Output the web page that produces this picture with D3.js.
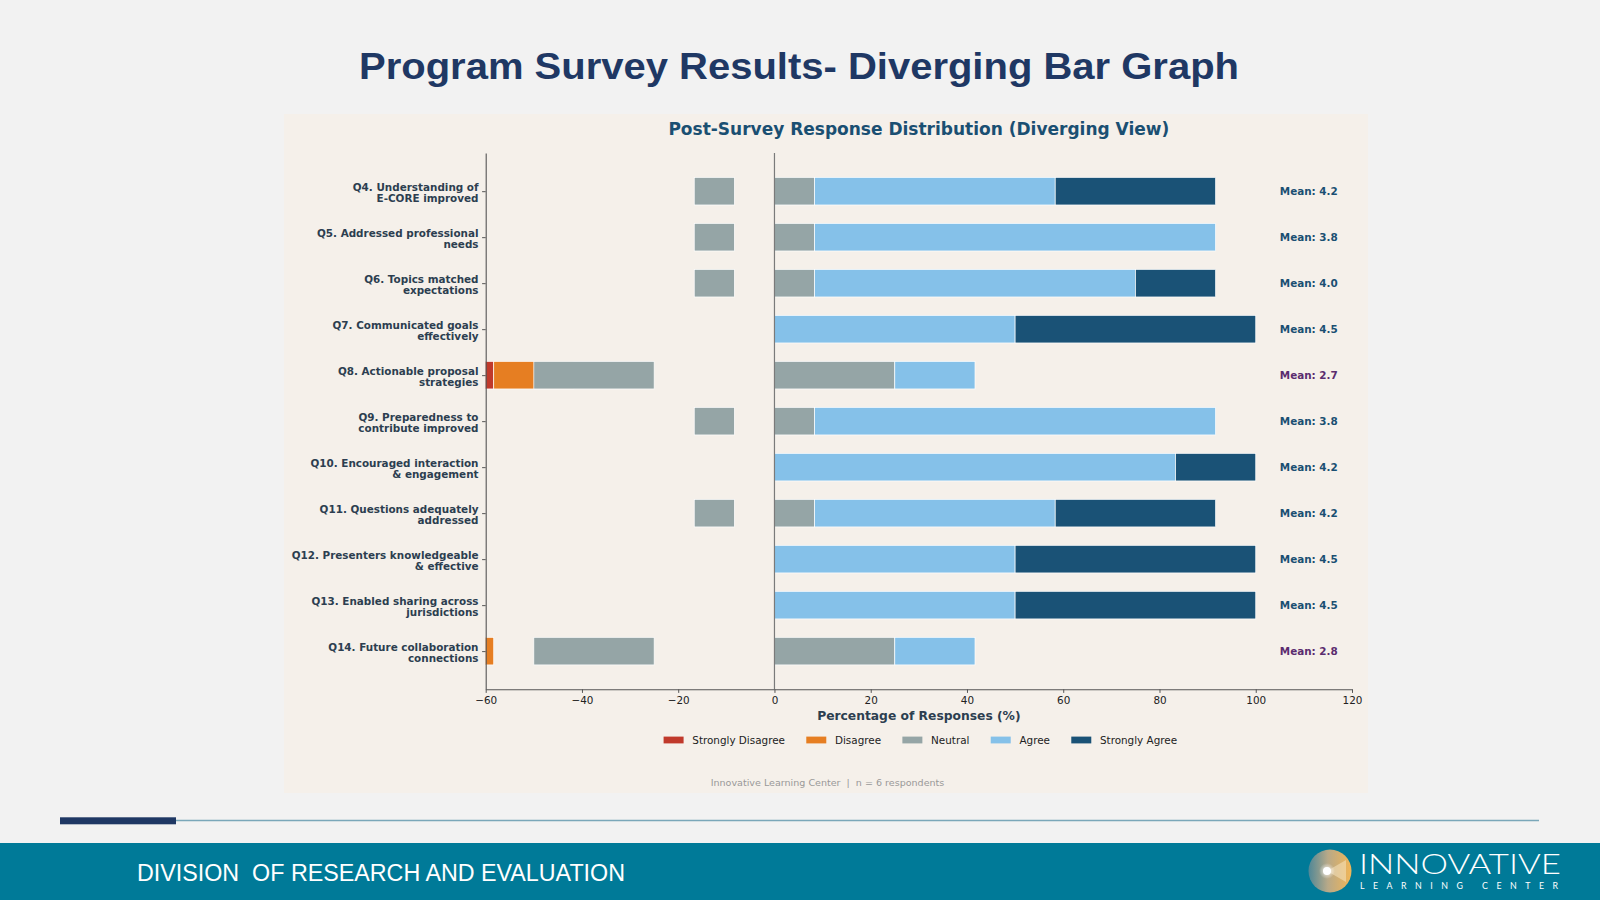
<!DOCTYPE html>
<html>
<head>
<meta charset="utf-8">
<script src="https://cdn.jsdelivr.net/npm/d3@7"></script>
<style>
  html, body { margin: 0; padding: 0; background: #f2f2f2; }
  svg { display: block; }
  text { white-space: pre; }
</style>
</head>
<body>
<svg id="chart" width="1600" height="900"></svg>
<script>
// ---------------- DATA ----------------
const questions = [
  "Q4. Understanding of\nE-CORE improved",
  "Q5. Addressed professional\nneeds",
  "Q6. Topics matched\nexpectations",
  "Q7. Communicated goals\neffectively",
  "Q8. Actionable proposal\nstrategies",
  "Q9. Preparedness to\ncontribute improved",
  "Q10. Encouraged interaction\n& engagement",
  "Q11. Questions adequately\naddressed",
  "Q12. Presenters knowledgeable\n& effective",
  "Q13. Enabled sharing across\njurisdictions",
  "Q14. Future collaboration\nconnections"
];
const nRespondents = 6;
// response counts per question (n = 6)
const stronglyDisagree = [0, 0, 0, 0, 1, 0, 0, 0, 0, 0, 0];
const disagree         = [0, 0, 0, 0, 1, 0, 0, 0, 0, 0, 2];
const neutral          = [1, 1, 1, 0, 3, 1, 0, 1, 0, 0, 3];
const agree            = [3, 5, 4, 3, 1, 5, 5, 3, 3, 3, 1];
const stronglyAgree    = [2, 0, 1, 3, 0, 0, 1, 2, 3, 3, 0];
const means            = [4.2, 3.8, 4.0, 4.5, 2.7, 3.8, 4.2, 4.2, 4.5, 4.5, 2.8];

const legendLabels = ["Strongly Disagree", "Disagree", "Neutral", "Agree", "Strongly Agree"];
const xTicks = [-60, -40, -20, 0, 20, 40, 60, 80, 100, 120];
const xDomain = [-60, 120];
const meanLabelX = 105;

const mainTitle = "Program Survey Results- Diverging Bar Graph";
const chartTitle = "Post-Survey Response Distribution (Diverging View)";
const xAxisTitle = "Percentage of Responses (%)";
const sourceNote = "Innovative Learning Center  |  n = 6 respondents";
const footerText = "DIVISION  OF RESEARCH AND EVALUATION";

// ---------------- STYLE ----------------
const colors = {
  "Strongly Disagree": "#c0392b",
  "Disagree": "#e67e22",
  "Neutral": "#95a5a6",
  "Agree": "#85c1e9",
  "Strongly Agree": "#1a5276"
};
const FONT = "'DejaVu Sans', sans-serif";

const svg = d3.select("#chart");

// page background
svg.append("rect").attr("width", 1600).attr("height", 900).attr("fill", "#f2f2f2");

// main title
svg.append("text")
  .attr("x", 799).attr("y", 78.5)
  .attr("text-anchor", "middle")
  .attr("font-family", "'Liberation Sans', Arial, sans-serif")
  .attr("font-weight", "bold")
  .attr("font-size", 37)
  .attr("fill", "#1f3864")
  .attr("textLength", 880)
  .attr("lengthAdjust", "spacingAndGlyphs")
  .text(mainTitle);

// chart panel
svg.append("rect")
  .attr("x", 284).attr("y", 114).attr("width", 1084).attr("height", 679)
  .attr("fill", "#f5f0ea");

// ---------------- SCALES ----------------
const x = d3.scaleLinear().domain(xDomain).range([485.7, 1352]);
const y = d3.scaleLinear().domain([-0.83, 10.83]).range([153, 689.3]);
const step = y(1) - y(0);
const barH = step * 0.6;

// chart subtitle
svg.append("text")
  .attr("x", (x.range()[0] + x.range()[1]) / 2).attr("y", 134.9)
  .attr("text-anchor", "middle")
  .attr("font-family", FONT).attr("font-weight", "bold")
  .attr("font-size", 17).attr("fill", "#1a4f72")
  .text(chartTitle);

// clip
svg.append("clipPath").attr("id", "plotclip")
  .append("rect")
  .attr("x", x(xDomain[0])).attr("y", y.range()[0])
  .attr("width", x(xDomain[1]) - x(xDomain[0]))
  .attr("height", y.range()[1] - y.range()[0]);

// ---------------- SEGMENTS ----------------
const pct = c => c / nRespondents * 100;
const segments = [];
questions.forEach((q, i) => {
  const sd = pct(stronglyDisagree[i]), d = pct(disagree[i]), n = pct(neutral[i]),
        a = pct(agree[i]), sa = pct(stronglyAgree[i]);
  // negative side (layout as in the original figure)
  if (sd > 0) segments.push({ i, cat: "Strongly Disagree", x0: -(n / 2 + d + sd), x1: -(n / 2 + d + 2 * sd) });
  if (d > 0)  segments.push({ i, cat: "Disagree", x0: -(n / 2 + d), x1: -(n / 2 + 2 * d) });
  if (n > 0)  segments.push({ i, cat: "Neutral", x0: -n / 2, x1: -n });
  // positive side
  if (n > 0)  segments.push({ i, cat: "Neutral", x0: 0, x1: n / 2 });
  if (a > 0)  segments.push({ i, cat: "Agree", x0: n / 2, x1: n / 2 + a });
  if (sa > 0) segments.push({ i, cat: "Strongly Agree", x0: n / 2 + a, x1: n / 2 + a + sa });
});

const plot = svg.append("g").attr("clip-path", "url(#plotclip)");
plot.selectAll("rect.seg").data(segments).enter().append("rect")
  .attr("class", "seg")
  .attr("x", s => x(Math.min(s.x0, s.x1)))
  .attr("width", s => Math.abs(x(s.x1) - x(s.x0)))
  .attr("y", s => y(s.i) - barH / 2)
  .attr("height", barH)
  .attr("fill", s => colors[s.cat])
  .attr("stroke", "#ffffff")
  .attr("stroke-width", 0.7);

// zero line
svg.append("line")
  .attr("x1", x(0)).attr("x2", x(0))
  .attr("y1", y.range()[0]).attr("y2", y.range()[1])
  .attr("stroke", "#7a7a7a").attr("stroke-width", 1.2);

// ---------------- AXES ----------------
const fmt = d => d < 0 ? "\u2212" + Math.abs(d) : String(d);
const xAxis = svg.append("g")
  .attr("transform", `translate(0,${y.range()[1]})`)
  .call(d3.axisBottom(x).tickValues(xTicks).tickFormat(fmt)
    .tickSizeInner(3.6).tickSizeOuter(0).tickPadding(4));
xAxis.select(".domain").attr("stroke", "#555").attr("stroke-width", 1.1);
xAxis.selectAll(".tick line").attr("stroke", "#555").attr("stroke-width", 1);
xAxis.selectAll(".tick text")
  .attr("font-family", FONT).attr("font-size", 10.4).attr("fill", "#222");

const yAxis = svg.append("g")
  .attr("transform", `translate(${x.range()[0]},0)`)
  .call(d3.axisLeft(y).tickValues(d3.range(questions.length))
    .tickSizeInner(3.6).tickSizeOuter(0).tickPadding(3.6).tickFormat(() => ""));
yAxis.select(".domain").attr("stroke", "#555").attr("stroke-width", 1.1);
yAxis.selectAll(".tick line").attr("stroke", "#555").attr("stroke-width", 1);
yAxis.selectAll(".tick text").each(function (d) {
  const t = d3.select(this);
  t.attr("dy", null)
    .attr("font-family", FONT).attr("font-weight", "bold")
    .attr("font-size", 10.4).attr("fill", "#2c3e50");
  const lines = questions[d].split("\n");
  lines.forEach((ln, k) => {
    t.append("tspan").attr("x", -7.2).attr("y", -1.0 + k * 11.6).text(ln);
  });
});

// mean labels
svg.selectAll("text.mean").data(means).enter().append("text")
  .attr("class", "mean")
  .attr("x", x(meanLabelX))
  .attr("y", (m, i) => y(i) + 3.8)
  .attr("font-family", FONT).attr("font-weight", "bold")
  .attr("font-size", 10.4)
  .attr("fill", m => m >= 3 ? "#1a4f72" : "#5b2c6f")
  .text(m => "Mean: " + m.toFixed(1));

// x axis title
svg.append("text")
  .attr("x", (x.range()[0] + x.range()[1]) / 2).attr("y", 720)
  .attr("text-anchor", "middle")
  .attr("font-family", FONT).attr("font-weight", "bold")
  .attr("font-size", 12.3).attr("fill", "#2c3e50")
  .text(xAxisTitle);

// ---------------- LEGEND ----------------
const legend = svg.append("g");
const items = legend.selectAll("g.item").data(legendLabels).enter().append("g").attr("class", "item");
items.append("rect").attr("width", 20).attr("height", 6.8).attr("y", 736.6)
  .attr("fill", d => colors[d]);
items.append("text").attr("x", 28.7).attr("y", 743.7)
  .attr("font-family", FONT).attr("font-size", 10.4).attr("fill", "#222")
  .text(d => d);
const widths = [];
items.each(function () { widths.push(28.7 + d3.select(this).select("text").node().getComputedTextLength()); });
const gap = 21.3;
const totalW = d3.sum(widths) + gap * (widths.length - 1);
let cx = (x.range()[0] + x.range()[1]) / 2 - totalW / 2 + 1.5;
items.each(function (d, k) {
  d3.select(this).attr("transform", `translate(${cx},0)`);
  cx += widths[k] + gap;
});

// source note
svg.append("text")
  .attr("x", 827.5).attr("y", 785.5)
  .attr("text-anchor", "middle")
  .attr("font-family", FONT).attr("font-size", 9.55).attr("fill", "#999999")
  .text(sourceNote);

// ---------------- FOOTER ----------------
svg.append("line").attr("x1", 175).attr("x2", 1539).attr("y1", 820.5).attr("y2", 820.5)
  .attr("stroke", "#7aa7b9").attr("stroke-width", 1.3);
svg.append("rect").attr("x", 60).attr("y", 817.3).attr("width", 116).attr("height", 7)
  .attr("fill", "#1f3864");

svg.append("rect").attr("x", 0).attr("y", 843).attr("width", 1600).attr("height", 57)
  .attr("fill", "#007a98");

svg.append("text")
  .attr("x", 137).attr("y", 880.5)
  .attr("font-family", "'Liberation Sans', Arial, sans-serif")
  .attr("font-size", 23).attr("fill", "#ffffff")
  .attr("textLength", 488).attr("lengthAdjust", "spacingAndGlyphs")
  .text(footerText);

// logo
const defs = svg.append("defs");
const lg = defs.append("linearGradient").attr("id", "logoGrad")
  .attr("x1", "0%").attr("x2", "100%").attr("y1", "0%").attr("y2", "0%");
lg.append("stop").attr("offset", "0%").attr("stop-color", "#4f8797");
lg.append("stop").attr("offset", "45%").attr("stop-color", "#b8a988");
lg.append("stop").attr("offset", "100%").attr("stop-color", "#f2b657");
const rg = defs.append("radialGradient").attr("id", "glow");
rg.append("stop").attr("offset", "0%").attr("stop-color", "#ffffff").attr("stop-opacity", 0.9);
rg.append("stop").attr("offset", "100%").attr("stop-color", "#ffffff").attr("stop-opacity", 0);

svg.append("circle").attr("cx", 1330).attr("cy", 871).attr("r", 21.5).attr("fill", "url(#logoGrad)");
svg.append("path")
  .attr("d", "M1327,871 L1346,860 L1346,882 Z")
  .attr("fill", "#f6e3c0").attr("opacity", 0.55);
svg.append("circle").attr("cx", 1327).attr("cy", 871).attr("r", 8).attr("fill", "url(#glow)");
svg.append("circle").attr("cx", 1327).attr("cy", 871).attr("r", 4).attr("fill", "#ffffff");

svg.append("text")
  .attr("x", 1359).attr("y", 873.5)
  .attr("font-family", "Lato, 'Open Sans', sans-serif").attr("font-weight", 300)
  .attr("font-size", 28).attr("fill", "#ffffff")
  .attr("textLength", 202).attr("lengthAdjust", "spacingAndGlyphs")
  .text("INNOVATIVE");
svg.append("text")
  .attr("x", 1360).attr("y", 889.3)
  .attr("font-family", "Lato, 'Open Sans', sans-serif")
  .attr("font-size", 8.8).attr("fill", "#ffffff")
  .attr("textLength", 198).attr("lengthAdjust", "spacing")
  .text("LEARNING CENTER");
</script>
</body>
</html>
